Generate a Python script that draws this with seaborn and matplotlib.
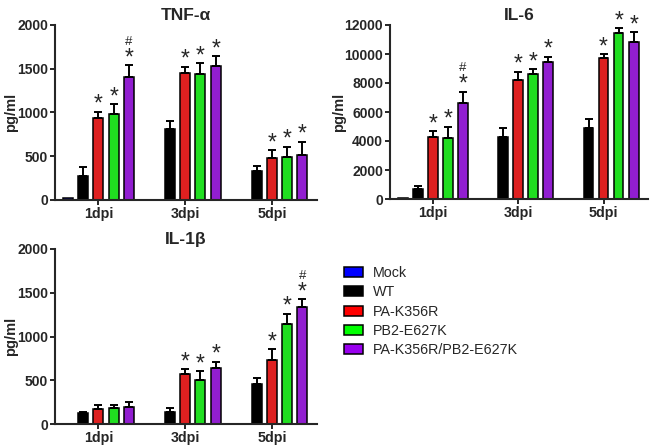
import numpy as np
import pandas as pd
import matplotlib
matplotlib.use("Agg")
from matplotlib import pyplot as plt
from matplotlib.patches import Patch
import seaborn as sns

days = ["1dpi", "3dpi", "5dpi"]
groups = ["Mock", "WT", "PA-K356R", "PB2-E627K", "PA-K356R/PB2-E627K"]
colors = ["#0000FF", "#000000", "#FF0000", "#00FF00", "#9900EE"]

# TNF-alpha, pg/ml (mean and upper SD per day)
tnf_mean = {
    "Mock": [20, 0, 0],
    "WT": [278, 815, 330],
    "PA-K356R": [933, 1448, 484],
    "PB2-E627K": [979, 1440, 495],
    "PA-K356R/PB2-E627K": [1410, 1531, 518],
}
tnf_err = {
    "Mock": [0, 0, 0],
    "WT": [103, 92, 58],
    "PA-K356R": [77, 76, 87],
    "PB2-E627K": [114, 122, 115],
    "PA-K356R/PB2-E627K": [133, 115, 149],
}
tnf_marks = {
    "Mock": ["", "", ""],
    "WT": ["", "", ""],
    "PA-K356R": ["*", "*", "*"],
    "PB2-E627K": ["*", "*", "*"],
    "PA-K356R/PB2-E627K": ["*#", "*", "*"],
}
tnf_ticks = [0, 500, 1000, 1500, 2000]

# IL-6
il6_mean = {
    "Mock": [80, 0, 0],
    "WT": [700, 4310, 4930],
    "PA-K356R": [4270, 8210, 9750],
    "PB2-E627K": [4200, 8620, 11420],
    "PA-K356R/PB2-E627K": [6610, 9430, 10800],
}
il6_err = {
    "Mock": [0, 0, 0],
    "WT": [170, 570, 570],
    "PA-K356R": [390, 570, 250],
    "PB2-E627K": [800, 345, 345],
    "PA-K356R/PB2-E627K": [800, 390, 690],
}
il6_marks = {
    "Mock": ["", "", ""],
    "WT": ["", "", ""],
    "PA-K356R": ["*", "*", "*"],
    "PB2-E627K": ["*", "*", "*"],
    "PA-K356R/PB2-E627K": ["*#", "*", "*"],
}
il6_ticks = [0, 2000, 4000, 6000, 8000, 10000, 12000]

# IL-1beta
il1b_mean = {
    "Mock": [0, 0, 0],
    "WT": [122, 141, 454],
    "PA-K356R": [172, 573, 733],
    "PB2-E627K": [179, 504, 1141],
    "PA-K356R/PB2-E627K": [198, 645, 1336],
}
il1b_err = {
    "Mock": [0, 0, 0],
    "WT": [19, 38, 69],
    "PA-K356R": [46, 57, 122],
    "PB2-E627K": [39, 103, 119],
    "PA-K356R/PB2-E627K": [58, 69, 91],
}
il1b_marks = {
    "Mock": ["", "", ""],
    "WT": ["", "", ""],
    "PA-K356R": ["", "*", "*"],
    "PB2-E627K": ["", "*", "*"],
    "PA-K356R/PB2-E627K": ["", "*", "*#"],
}
il1b_ticks = [0, 500, 1000, 1500, 2000]


def long_frame(means):
    rows = []
    for g in groups:
        for d, v in zip(days, means[g]):
            rows.append({"day": d, "group": g, "value": v})
    return pd.DataFrame(rows)


def draw_panel(ax, title, means, errs, marks, ticks, label_x):
    df = long_frame(means)
    sns.barplot(
        data=df, x="day", y="value", hue="group", order=days, hue_order=groups,
        palette=colors, errorbar=None, width=0.88, gap=0.35,
        edgecolor="black", linewidth=1.1, legend=False, ax=ax,
    )
    for g, cont in zip(groups, ax.containers):
        bars = sorted(cont, key=lambda b: b.get_x())
        for bar, e, m in zip(bars, errs[g], marks[g]):
            x = bar.get_x() + bar.get_width() / 2
            top = bar.get_height()
            if e > 0:
                ax.errorbar(x, top, yerr=[[0], [e]], fmt="none", ecolor="black",
                            elinewidth=1.4, capsize=3, capthick=1.4, zorder=1)
            if "*" in m:
                ax.annotate("*", xy=(x, top + e), xytext=(0, -3), textcoords="offset points",
                            ha="center", va="bottom", fontsize=16.5)
            if "#" in m:
                ax.annotate("#", xy=(x, top + e), xytext=(0, 12.5), textcoords="offset points",
                            ha="center", va="bottom", fontsize=9.5)

    ax.set_xlim(-0.5, 2.52)
    ax.set_ylim(ticks[0], ticks[-1])
    ax.set_yticks(ticks)
    ax.set_title(title, fontsize=12.5, fontweight="bold", pad=3.5)
    ax.set_xlabel("")
    ax.set_ylabel("pg/ml", fontsize=10.5, fontweight="bold")
    ax.yaxis.set_label_coords(label_x, 0.5)
    ax.tick_params(axis="both", length=3.5, width=1.4, pad=1.5)
    for lab in ax.get_xticklabels() + ax.get_yticklabels():
        lab.set_fontweight("bold")
    for lab in ax.get_yticklabels():
        lab.set_fontsize(10)
    for lab in ax.get_xticklabels():
        lab.set_fontsize(10.3)
    sns.despine(ax=ax)
    for side in ["left", "bottom"]:
        ax.spines[side].set_linewidth(1.5)


sns.set_style("ticks")
plt.rcParams["font.family"] = ["Liberation Sans", "DejaVu Sans"]

W, H = 650, 446
fig = plt.figure(figsize=(6.5, 4.46), dpi=100)

ax1 = fig.add_axes([55 / W, 1 - 200 / H, 262 / W, 175 / H])
ax2 = fig.add_axes([390 / W, 1 - 199 / H, 258 / W, 174 / H])
ax3 = fig.add_axes([55 / W, 1 - 424 / H, 262 / W, 175 / H])

draw_panel(ax1, "TNF-α", tnf_mean, tnf_err, tnf_marks, tnf_ticks, -0.14)
draw_panel(ax2, "IL-6", il6_mean, il6_err, il6_marks, il6_ticks, -0.17)
draw_panel(ax3, "IL-1β", il1b_mean, il1b_err, il1b_marks, il1b_ticks, -0.14)

handles = [Patch(facecolor=c, edgecolor="black", linewidth=1.1) for c in colors]
fig.legend(
    handles, groups, loc="upper left", bbox_to_anchor=(344 / W, 1 - 266 / H),
    frameon=False, fontsize=10.3, borderpad=0, handlelength=1.3, handleheight=0.7,
    handletextpad=0.7, labelspacing=0.37, borderaxespad=0,
)

fig.savefig("out.png", dpi=100)
